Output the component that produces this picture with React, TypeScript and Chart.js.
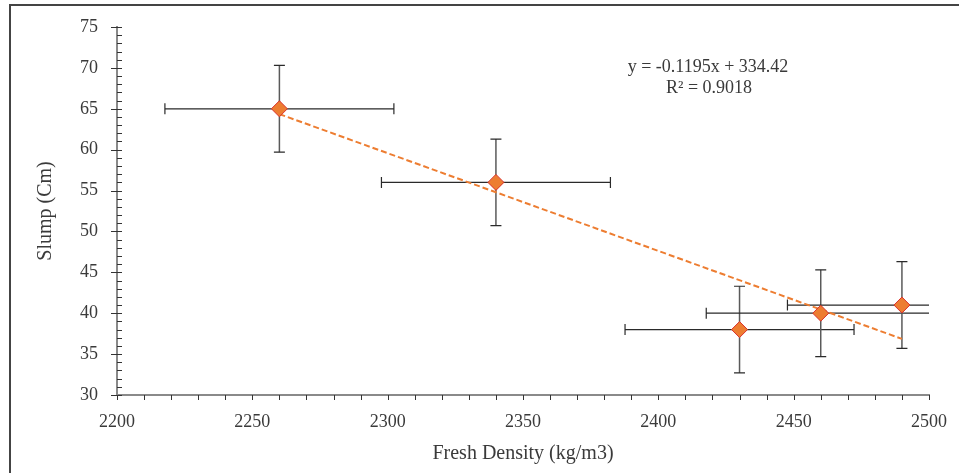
import React, { useEffect, useRef } from 'react';
import { Chart, registerables } from 'chart.js';

Chart.register(...registerables);

// ---- data ----
const densities = [2260, 2340, 2430, 2460, 2490];
const slumps = [65, 56, 38, 40, 41];
const densityErr = [42.3, 42.3, 42.3, 42.3, 42.3];
const slumpErr = [5.3, 5.3, 5.3, 5.3, 5.3];
const trendSlope = -0.1195;
const trendIntercept = 334.42;
const trendRange = [2260, 2490];
const equationLines = ['y = -0.1195x + 334.42', 'R² = 0.9018'];
const xTitle = 'Fresh Density (kg/m3)';
const yTitle = 'Slump (Cm)';
const xMin = 2200, xMax = 2500, xStep = 50, xMinorStep = 10;
const yMin = 30, yMax = 75, yStep = 5, yMinorStep = 1;

const FONT = '"Liberation Serif", "Times New Roman", serif';
const TEXT = '#3a3a3a';

const errorBarPlugin = {
  id: 'errorBars',
  beforeDatasetsDraw(chart: any) {
    const { ctx, chartArea, scales } = chart;
    const xs = scales.x, ys = scales.y;
    ctx.save();
    ctx.beginPath();
    ctx.rect(chartArea.left, chartArea.top - 20, chartArea.right - chartArea.left, chartArea.bottom - chartArea.top + 40);
    ctx.clip();
    const cap = 5.5;
    for (let i = 0; i < densities.length; i++) {
      const cx = xs.getPixelForValue(densities[i]);
      const cy = ys.getPixelForValue(slumps[i]);
      const x0 = xs.getPixelForValue(densities[i] - densityErr[i]);
      const x1 = xs.getPixelForValue(densities[i] + densityErr[i]);
      const y0 = ys.getPixelForValue(slumps[i] + slumpErr[i]);
      const y1 = ys.getPixelForValue(slumps[i] - slumpErr[i]);
      // horizontal
      ctx.strokeStyle = '#2a2a2a';
      ctx.lineWidth = 1.2;
      ctx.beginPath();
      ctx.moveTo(x0, cy); ctx.lineTo(x1, cy);
      ctx.moveTo(x0, cy - cap); ctx.lineTo(x0, cy + cap);
      ctx.moveTo(x1, cy - cap); ctx.lineTo(x1, cy + cap);
      ctx.stroke();
      // vertical
      ctx.strokeStyle = '#5a5a5a';
      ctx.lineWidth = 1.5;
      ctx.beginPath();
      ctx.moveTo(cx, y0); ctx.lineTo(cx, y1);
      ctx.stroke();
      ctx.strokeStyle = '#2a2a2a';
      ctx.lineWidth = 1.2;
      ctx.beginPath();
      ctx.moveTo(cx - cap, y0); ctx.lineTo(cx + cap, y0);
      ctx.moveTo(cx - cap, y1); ctx.lineTo(cx + cap, y1);
      ctx.stroke();
    }
    ctx.restore();
  },
};

const axisTicksPlugin = {
  id: 'axisTicks',
  afterDraw(chart: any) {
    const { ctx, chartArea, scales } = chart;
    const xs = scales.x, ys = scales.y;
    ctx.save();
    ctx.strokeStyle = '#333';
    ctx.lineWidth = 1;
    ctx.beginPath();
    for (let v = yMin; v <= yMax + 1e-9; v += yMinorStep) {
      const y = Math.round(ys.getPixelForValue(v)) + 0.5;
      const major = Math.abs((v - yMin) % yStep) < 1e-9;
      ctx.moveTo(chartArea.left - (major ? 6 : 0), y);
      ctx.lineTo(chartArea.left + 5, y);
    }
    for (let v = xMin; v <= xMax + 1e-9; v += xMinorStep) {
      const x = Math.round(xs.getPixelForValue(v)) + 0.5;
      ctx.moveTo(x, chartArea.bottom);
      ctx.lineTo(x, chartArea.bottom + 5);
    }
    ctx.stroke();
    // equation text
    ctx.fillStyle = TEXT;
    ctx.font = `18px ${FONT}`;
    ctx.textAlign = 'center';
    ctx.textBaseline = 'middle';
    ctx.fillText(equationLines[0], 708, 67);
    ctx.fillText(equationLines[1], 709, 88);
    ctx.restore();
  },
};

export default function App() {
  const ref = useRef<HTMLCanvasElement | null>(null);
  useEffect(() => {
    if (!ref.current) return;
    const chart = new Chart(ref.current, {
      type: 'scatter',
      data: {
        datasets: [
          {
            type: 'scatter',
            label: 'Slump',
            data: densities.map((d, i) => ({ x: d, y: slumps[i] })),
            pointStyle: 'rectRot',
            pointRadius: 8,
            pointHoverRadius: 8,
            backgroundColor: '#ED7D31',
            borderColor: '#D9302C',
            borderWidth: 1,
            order: 0,
          },
          {
            type: 'line',
            label: 'Trend',
            data: trendRange.map((x) => ({ x, y: trendSlope * x + trendIntercept })),
            borderColor: '#ED7D31',
            borderWidth: 2,
            borderDash: [6, 3],
            pointRadius: 0,
            fill: false,
            order: 1,
          } as any,
        ],
      },
      options: {
        animation: false,
        responsive: false,
        maintainAspectRatio: false,
        layout: { padding: { left: 0, top: 27, right: 30, bottom: 0 } },
        plugins: { legend: { display: false }, tooltip: { enabled: false } },
        scales: {
          x: {
            type: 'linear',
            min: xMin,
            max: xMax,
            afterFit: (s: any) => { s.height = 78; s.paddingLeft = 0; s.paddingRight = 0; },
            ticks: { stepSize: xStep, padding: 16, color: TEXT, font: { family: FONT, size: 18 }, callback: (v: any) => String(v) },
            grid: { display: false, drawTicks: false, tickLength: 0 },
            border: { display: true, color: '#8a8a8a', width: 2 },
            title: { display: true, text: xTitle, color: TEXT, font: { family: FONT, size: 20 }, padding: { top: 0, bottom: 7 } },
          },
          y: {
            type: 'linear',
            min: yMin,
            max: yMax,
            afterFit: (s: any) => { s.width = 117; s.paddingTop = 0; s.paddingBottom = 0; },
            ticks: { stepSize: yStep, padding: 19, color: TEXT, font: { family: FONT, size: 18 }, callback: (v: any) => String(v) },
            grid: { display: false, drawTicks: false, tickLength: 0 },
            border: { display: true, color: '#8a8a8a', width: 2 },
            title: { display: true, text: yTitle, color: TEXT, font: { family: FONT, size: 20 }, padding: { top: 34, bottom: 0 } },
          },
        },
      },
      plugins: [errorBarPlugin, axisTicksPlugin],
    });
    return () => chart.destroy();
  }, []);
  return (
    <div style={{ position: 'fixed', left: 0, top: 0, width: 959, height: 473, overflow: 'hidden', background: '#fff' }}>
      <div style={{ position: 'absolute', left: 9, top: 4, width: 2000, height: 2000, borderTop: '2px solid #444', borderLeft: '2px solid #444' }} />
      <canvas ref={ref} width={959} height={473} style={{ position: 'absolute', left: 0, top: 0 }} />
    </div>
  );
}
